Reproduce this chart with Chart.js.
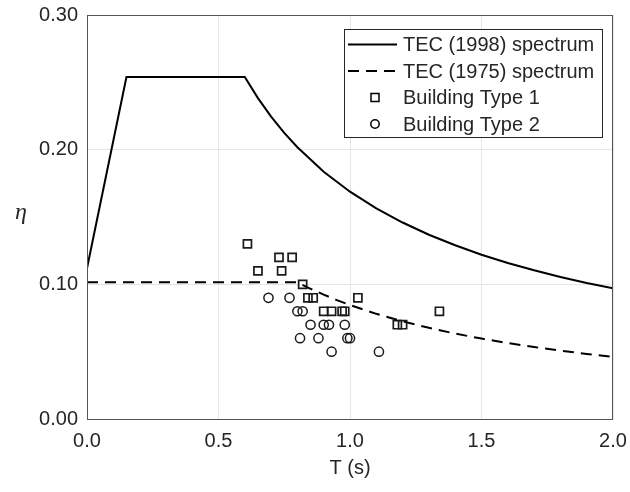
<!DOCTYPE html>
<html>
<head>
<meta charset="utf-8">
<script src="https://cdn.jsdelivr.net/npm/chart.js@4.4.1/dist/chart.umd.min.js"></script>
<style>
  html, body { margin: 0; padding: 0; background: #fff; }
  #chart { display: block; }
</style>
</head>
<body>
<canvas id="chart" width="630" height="492"></canvas>
<script>
// TEC (1998) design spectrum
const tec1998T   = [0, 0.15, 0.6, 0.65, 0.7, 0.75, 0.8, 0.9, 1.0, 1.1, 1.2, 1.3, 1.4, 1.5, 1.6, 1.7, 1.8, 1.9, 2.0];
const tec1998Eta = [0.112, 0.254, 0.254, 0.2383, 0.2246, 0.2125, 0.2018, 0.1836, 0.1688, 0.1564, 0.1459, 0.1368, 0.1290, 0.1220, 0.1159, 0.1104, 0.1055, 0.1010, 0.0970];

// TEC (1975) spectrum
const tec1975T   = [0, 0.8, 0.85, 0.9, 0.95, 1.0, 1.1, 1.2, 1.3, 1.4, 1.5, 1.6, 1.7, 1.8, 1.9, 2.0];
const tec1975Eta = [0.1015, 0.1015, 0.0967, 0.0923, 0.0883, 0.0846, 0.0781, 0.0725, 0.0677, 0.0634, 0.0597, 0.0564, 0.0534, 0.0508, 0.0483, 0.0461];

// buildings
const type1T   = [0.61, 0.65, 0.73, 0.74, 0.78, 0.82, 0.84, 0.86, 0.90, 0.93, 0.97, 0.98, 1.03, 1.18, 1.20, 1.34];
const type1Eta = [0.13, 0.11, 0.12, 0.11, 0.12, 0.10, 0.09, 0.09, 0.08, 0.08, 0.08, 0.08, 0.09, 0.07, 0.07, 0.08];
const type2T   = [0.69, 0.77, 0.80, 0.82, 0.85, 0.90, 0.92, 0.98, 0.81, 0.88, 0.99, 1.00, 0.93, 1.11];
const type2Eta = [0.09, 0.09, 0.08, 0.08, 0.07, 0.07, 0.07, 0.07, 0.06, 0.06, 0.06, 0.06, 0.05, 0.05];

const xTicks = [0, 0.5, 1.0, 1.5, 2.0];
const yTicks = [0, 0.1, 0.2, 0.3];

const FONT = "'Liberation Sans', Arial, sans-serif";
const TXT = '#262626';

const toXY = (xs, ys) => xs.map((x, i) => ({ x: x, y: ys[i] }));

// box around the axes + upright eta label
const frame = {
  id: 'frame',
  afterDatasetsDraw(chart) {
    const { ctx, chartArea: a } = chart;
    ctx.save();
    ctx.strokeStyle = '#555';
    ctx.lineWidth = 1;
    ctx.strokeRect(a.left + 0.5, a.top + 0.5, a.right - a.left - 1, a.bottom - a.top);
    ctx.fillStyle = TXT;
    ctx.font = "italic 24px 'Liberation Serif', 'DejaVu Serif', serif";
    ctx.textAlign = 'center';
    ctx.textBaseline = 'middle';
    ctx.fillText('\u03b7', 21, (a.top + a.bottom) / 2 - 4);
    ctx.restore();
  }
};

// legend box inside the top right corner
const insideLegend = {
  id: 'insideLegend',
  afterDraw(chart) {
    const { ctx, chartArea: a } = chart;
    const right = a.right - 11, top = a.top + 14;
    const w = 258, h = 108;
    const left = right - w;
    ctx.save();
    ctx.fillStyle = '#fff';
    ctx.fillRect(left, top, w, h);
    ctx.strokeStyle = '#262626';
    ctx.lineWidth = 1;
    ctx.strokeRect(left + 0.5, top + 0.5, w, h);
    ctx.font = '20px ' + FONT;
    ctx.textBaseline = 'middle';
    chart.data.datasets.forEach((ds, i) => {
      const y = top + 15.5 + i * 26.5;
      ctx.strokeStyle = '#000';
      if (ds.showLine) {
        ctx.lineWidth = 2;
        ctx.setLineDash(ds.borderDash || []);
        ctx.beginPath();
        ctx.moveTo(left + 4, y);
        ctx.lineTo(left + 53, y);
        ctx.stroke();
        ctx.setLineDash([]);
      } else {
        ctx.lineWidth = 1.5;
        ctx.beginPath();
        if (ds.pointStyle === 'rect') {
          ctx.rect(left + 27, y - 4, 8, 8);
        } else {
          ctx.arc(left + 31, y, 4.2, 0, Math.PI * 2);
        }
        ctx.stroke();
      }
      ctx.fillStyle = TXT;
      ctx.fillText(ds.label, left + 59, y + 1);
    });
    ctx.restore();
  }
};

new Chart(document.getElementById('chart'), {
  type: 'scatter',
  data: {
    datasets: [
      {
        label: 'TEC (1998) spectrum',
        data: toXY(tec1998T, tec1998Eta),
        showLine: true,
        borderColor: '#000',
        borderWidth: 2,
        pointRadius: 0,
        tension: 0
      },
      {
        label: 'TEC (1975) spectrum',
        data: toXY(tec1975T, tec1975Eta),
        showLine: true,
        borderColor: '#000',
        borderWidth: 2,
        borderDash: [11, 7],
        pointRadius: 0,
        tension: 0
      },
      {
        label: 'Building Type 1',
        data: toXY(type1T, type1Eta),
        showLine: false,
        pointStyle: 'rect',
        pointRadius: 5.7,
        borderColor: '#1a1a1a',
        borderWidth: 1.7,
        backgroundColor: 'rgba(0,0,0,0)'
      },
      {
        label: 'Building Type 2',
        data: toXY(type2T, type2Eta),
        showLine: false,
        pointStyle: 'circle',
        pointRadius: 4.6,
        borderColor: '#1a1a1a',
        borderWidth: 1.5,
        backgroundColor: 'rgba(0,0,0,0)'
      }
    ]
  },
  options: {
    responsive: false,
    animation: false,
    layout: { padding: { left: 0, right: 17, top: 15, bottom: 0 } },
    plugins: {
      legend: { display: false },
      tooltip: { enabled: false }
    },
    scales: {
      x: {
        type: 'linear',
        min: 0,
        max: 2,
        afterBuildTicks: (s) => { s.ticks = xTicks.map(v => ({ value: v })); },
        afterFit: (s) => { s.height = 73; s.paddingLeft = 0; s.paddingRight = 0; },
        ticks: {
          color: TXT,
          font: { family: FONT, size: 20 },
          padding: 10,
          maxRotation: 0,
          callback: (v) => v.toFixed(1)
        },
        grid: { color: '#e6e6e6', drawTicks: false },
        border: { display: false },
        title: {
          display: true,
          text: 'T (s)',
          color: TXT,
          font: { family: FONT, size: 20 },
          padding: { top: 2, bottom: 12 }
        }
      },
      y: {
        type: 'linear',
        min: 0,
        max: 0.3,
        afterBuildTicks: (s) => { s.ticks = yTicks.map(v => ({ value: v })); },
        afterFit: (s) => { s.width = 87; s.paddingTop = 0; s.paddingBottom = 0; },
        ticks: {
          color: TXT,
          font: { family: FONT, size: 20 },
          padding: 9,
          callback: (v) => v.toFixed(2)
        },
        grid: { color: '#e6e6e6', drawTicks: false },
        border: { display: false }
      }
    }
  },
  plugins: [frame, insideLegend]
});
</script>
</body>
</html>
